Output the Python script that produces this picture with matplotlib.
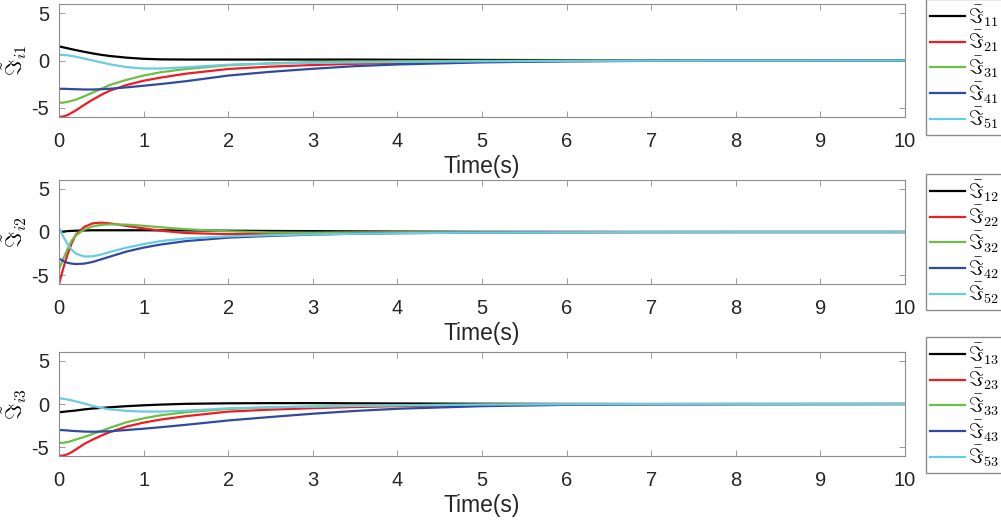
import numpy as np
import matplotlib
matplotlib.use("Agg")
import matplotlib.pyplot as plt

plt.rcParams["font.family"] = ["Liberation Sans", "DejaVu Sans"]
plt.rcParams["mathtext.fontset"] = "cm"
plt.rcParams["axes.unicode_minus"] = False

# time samples (s)
t = [0, 0.05, 0.1, 0.15, 0.2, 0.3, 0.4, 0.5, 0.6, 0.8, 1.0, 1.2, 1.5,
     2.0, 2.5, 3.0, 3.5, 4.0, 5.0, 6.0, 7.0, 8.0, 10.0]

# panel 1: j = 1
s11 = [1.5, 1.4, 1.3, 1.2, 1.1, 0.92, 0.75, 0.6, 0.48, 0.3, 0.18, 0.12, 0.1,
       0.1, 0.1, 0.1, 0.1, 0.08, 0.06, 0.04, 0.02, 0.01, 0.0]
s21 = [-6.0, -5.95, -5.8, -5.55, -5.3, -4.7, -4.15, -3.65, -3.2, -2.6, -2.15, -1.82, -1.4,
       -0.9, -0.65, -0.48, -0.35, -0.25, -0.12, -0.06, -0.03, -0.01, 0.0]
s31 = [-4.5, -4.47, -4.4, -4.28, -4.15, -3.8, -3.4, -3.0, -2.6, -2.05, -1.6, -1.25, -0.9,
       -0.5, -0.3, -0.18, -0.12, -0.08, -0.04, -0.02, -0.01, 0.0, 0.0]
s41 = [-3.0, -3.01, -3.02, -3.04, -3.05, -3.08, -3.08, -3.05, -3.0, -2.85, -2.68, -2.5, -2.2,
       -1.6, -1.2, -0.88, -0.6, -0.42, -0.2, -0.09, -0.04, -0.02, 0.0]
s51 = [0.6, 0.58, 0.55, 0.48, 0.4, 0.2, 0.0, -0.2, -0.4, -0.7, -0.85, -0.85, -0.72,
       -0.45, -0.33, -0.25, -0.2, -0.15, -0.08, -0.04, -0.02, -0.01, 0.0]

# panel 2: j = 2
s12 = [0.0, 0.05, 0.1, 0.13, 0.15, 0.18, 0.2, 0.2, 0.2, 0.2, 0.2, 0.19, 0.18,
       0.15, 0.12, 0.1, 0.07, 0.05, 0.02, 0.01, 0.0, 0.0, 0.0]
s22 = [-6.0, -4.2, -2.6, -1.3, -0.3, 0.6, 1.0, 1.08, 1.0, 0.7, 0.42, 0.15, -0.12,
       -0.25, -0.2, -0.12, -0.07, -0.04, -0.01, 0.0, 0.0, 0.0, 0.0]
s32 = [-4.3, -3.1, -2.0, -1.0, -0.4, 0.3, 0.65, 0.82, 0.88, 0.85, 0.72, 0.55, 0.32,
       0.08, -0.05, -0.08, -0.06, -0.04, -0.02, -0.01, 0.0, 0.0, 0.0]
s42 = [-3.05, -3.35, -3.55, -3.65, -3.7, -3.65, -3.45, -3.15, -2.85, -2.25, -1.8, -1.45, -1.05,
       -0.65, -0.45, -0.3, -0.2, -0.14, -0.06, -0.03, -0.01, 0.0, 0.0]
s52 = [0.5, -0.5, -1.4, -2.05, -2.5, -2.83, -2.8, -2.6, -2.3, -1.8, -1.4, -1.05, -0.75,
       -0.5, -0.37, -0.27, -0.2, -0.14, -0.07, -0.03, -0.01, 0.0, 0.0]

# panel 3: j = 3
s13 = [-0.95, -0.9, -0.85, -0.8, -0.75, -0.62, -0.52, -0.45, -0.38, -0.25, -0.15, -0.07, 0.02,
       0.08, 0.1, 0.1, 0.08, 0.06, 0.03, 0.01, 0.0, 0.0, 0.0]
s23 = [-6.0, -5.95, -5.8, -5.55, -5.25, -4.6, -4.1, -3.65, -3.25, -2.6, -2.15, -1.8, -1.4,
       -0.88, -0.65, -0.48, -0.35, -0.25, -0.12, -0.06, -0.03, -0.01, 0.0]
s33 = [-4.5, -4.47, -4.4, -4.25, -4.1, -3.8, -3.45, -3.1, -2.75, -2.1, -1.65, -1.3, -0.95,
       -0.57, -0.4, -0.28, -0.2, -0.14, -0.07, -0.03, -0.01, 0.0, 0.0]
s43 = [-3.0, -3.02, -3.05, -3.1, -3.13, -3.18, -3.2, -3.18, -3.15, -3.0, -2.85, -2.68, -2.4,
       -1.9, -1.5, -1.12, -0.8, -0.55, -0.25, -0.1, -0.04, -0.02, 0.0]
s53 = [0.65, 0.6, 0.52, 0.42, 0.3, 0.05, -0.22, -0.45, -0.62, -0.8, -0.87, -0.87, -0.78,
       -0.5, -0.38, -0.3, -0.22, -0.15, -0.07, -0.03, -0.01, 0.0, 0.0]

panels = [[s11, s21, s31, s41, s51],
          [s12, s22, s32, s42, s52],
          [s13, s23, s33, s43, s53]]
colors = ["#000000", "#ee1c24", "#6cbf46", "#2e4ba0", "#6accdf"]

fig = plt.figure(figsize=(10.01, 5.23), dpi=100)
W, H = 1001, 523
# (top, bottom) of each axes in pixels
boxes = [(4, 117), (180, 284), (352, 456)]
leg_tops = [-1, 174, 337]
left, right = 59, 905

for j, (series, (top, bot), ltop) in enumerate(zip(panels, boxes, leg_tops)):
    ax = fig.add_axes([left / W, 1 - bot / H, (right - left) / W, (bot - top) / H])
    for i, (y, c) in enumerate(zip(series, colors)):
        ax.plot(t, y, color=c, lw=1.6,
                label=r"$\bar{\Im}_{%d%d}$" % (i + 1, j + 1))
    ax.set_xlim(0, 10)
    ax.set_ylim(-6, 6)
    ax.set_xticks(range(0, 11))
    ax.set_yticks([-5, 0, 5])
    ax.tick_params(direction="in", top=True, right=True, length=4,
                   width=0.6, color="#8c8c8c", labelsize=14.5,
                   labelcolor="#262626", pad=7)
    ax.tick_params(axis="x", pad=11)
    for sp in ax.spines.values():
        sp.set_color("#8c8c8c")
        sp.set_linewidth(0.8)
    ax.set_xlabel("Time(s)", fontsize=16.5, color="#262626", labelpad=3)
    ax.set_ylabel(r"$\tilde{\Im}_{i%d}$" % (j + 1), fontsize=16)
    ax.yaxis.set_label_coords(-0.036, 0.5)
    ax.legend(loc="upper left", bbox_to_anchor=(926 / W, 1 - ltop / H),
              bbox_transform=fig.transFigure, fontsize=14.5, frameon=True,
              fancybox=False, edgecolor="#8c8c8c", framealpha=1,
              handlelength=1.75, handletextpad=0.15, labelspacing=0.0,
              borderpad=0.2, borderaxespad=0)

fig.savefig("out.png", dpi=100)
